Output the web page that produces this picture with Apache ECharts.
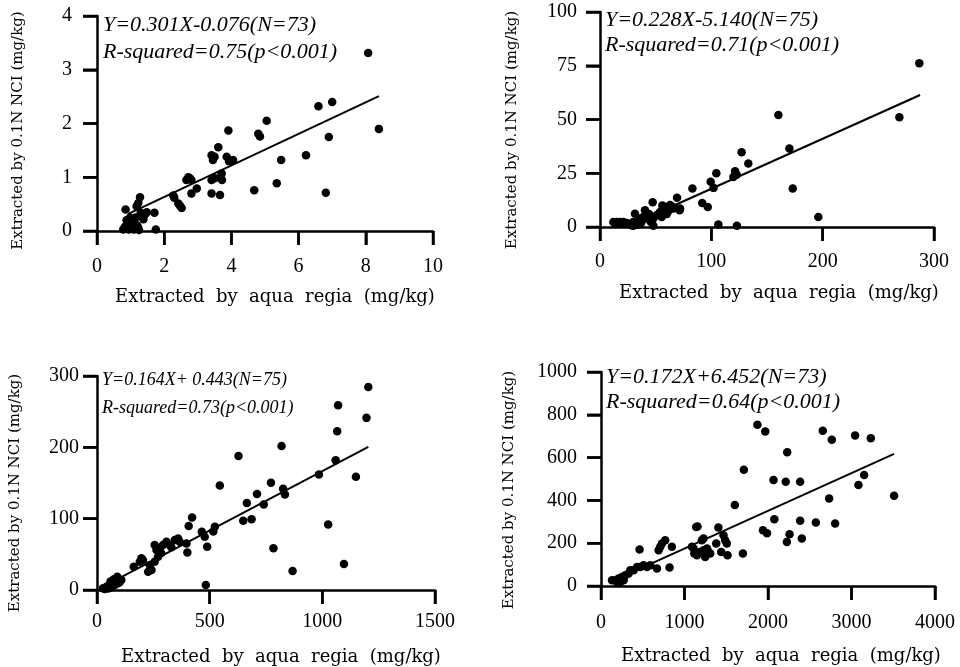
<!DOCTYPE html>
<html>
<head>
<meta charset="utf-8">
<script src="https://cdn.jsdelivr.net/npm/echarts@6/dist/echarts.min.js"></script>
<style>html,body{margin:0;padding:0;background:#fff;}#c{width:960px;height:667px;}</style>
</head>
<body>
<div id="c"></div>
<script>
// ---- Panel 1 ----
const p1x = [8.07,8.39,7.00,6.59,6.90,6.81,6.22,5.48,5.35,5.05,4.80,4.85,4.68,3.91,4.05,3.86,3.93,3.61,3.41,3.45,3.50,3.71,3.68,3.72,3.41,3.50,3.41,3.66,2.72,2.81,2.66,2.76,2.97,2.81,2.27,2.42,2.52,2.47,1.28,1.23,1.18,0.85,1.48,1.43,1.38,1.71,1.75,0.88,0.93,0.83,1.03,1.23,1.13,1.08,1.30,1.33,0.78,0.95,1.10,1.20,0.98,1.00,1.15,1.25,2.30];
const p1y = [3.31,1.90,2.40,2.32,1.75,0.71,1.41,1.32,0.89,2.05,1.81,1.76,0.76,1.87,1.32,1.38,1.30,1.56,1.41,1.32,1.38,1.07,1.00,0.95,0.95,0.98,0.70,0.67,1.00,0.95,0.95,0.98,0.79,0.70,0.66,0.51,0.43,0.47,0.63,0.52,0.46,0.40,0.35,0.31,0.22,0.34,0.03,0.20,0.14,0.08,0.05,0.05,0.14,0.20,0.34,0.28,0.03,0.03,0.03,0.10,0.25,0.12,0.25,0.02,0.62];
const p1line = [[0.93,0.32],[8.39,2.51]];
const p1xTicks = [0,2,4,6,8,10];
const p1yTicks = [0,1,2,3,4];
const p1text = ['Y=0.301X-0.076(N=73)','R-squared=0.75(p<0.001)'];

// ---- Panel 2 ----
const p2x = [286.8,268.9,160.2,170.1,173.1,196.1,133.2,127.2,121.3,122.8,119.8,104.5,99.4,102.0,91.8,96.8,83.0,69.2,71.5,47.3,106.3,123.0,31.4,40.4,47.9,29.9,62.9,59.9,56.9,53.9,50.9,47.9,55.4,65.9,71.9,44.0,38.9,35.9,41.9,29.9,12.0,15.0,18.0,21.0,24.0,13.5,19.5,28.4,58.0,61.5,64.0,67.0,52.5,45.5,37.0,26.0,33.0,17.0,56.0,60.0,43.0];
const p2y = [76.2,51.0,52.1,36.5,17.9,4.7,29.5,34.8,25.9,24.3,23.3,25.0,21.0,18.2,11.2,9.3,17.9,13.6,7.8,11.5,1.2,0.6,6.2,7.8,0.6,0.6,10.2,9.3,8.6,7.0,5.5,3.9,4.7,8.6,8.6,6.0,4.7,3.9,3.9,2.3,2.3,2.3,2.3,2.3,1.9,1.6,1.6,0.8,6.5,7.5,9.8,9.0,6.0,2.5,2.0,1.5,1.0,1.8,10.0,6.0,5.0];
const p2line = [[45,5.0],[287.5,61.4]];
const p2xTicks = [0,100,200,300];
const p2yTicks = [0,25,50,75,100];
const p2text = ['Y=0.228X-5.140(N=75)','R-squared=0.71(p<0.001)'];

// ---- Panel 3 ----
const p3x = [1204,1196,1070,1066,1059,1149,985,819,628,545,772,826,834,710,740,665,649,686,1026,783,868,1096,483,516,523,465,478,489,422,407,401,360,367,345,397,308,323,293,278,264,256,271,256,234,227,242,197,190,204,163,86,71,56,42,27,108,93,79,60,75,100,65,50,35,90,285,330];
const p3y = [284.6,241.3,259,222.6,182,158.7,161.9,202,188,146.5,150.5,142,134,134.5,120,122,97,99.2,91.9,58.4,26.6,36.4,7,82,88.6,81.7,74.6,60.6,101.5,89.8,52.6,72.3,67.7,70,65.3,67.7,63,63,58.3,56,63,46.6,39.7,35,25.6,28,44.4,39.7,42,32.6,16.3,11.6,7,4.7,2.3,14,9.3,7,12,15,11,4,2,1.5,18.7,52,60];
const p3line = [[15,2.5],[1204,200.5]];
const p3xTicks = [0,500,1000,1500];
const p3yTicks = [0,100,200,300];
const p3text = ['Y=0.164X+ 0.443(N=75)','R-squared=0.73(p<0.001)'];

// ---- Panel 4 ----
const p4x = [1873,1967,2656,2764,3043,3231,2230,1711,2066,2212,2385,3151,3083,3510,2732,1603,2076,2385,2573,2804,1940,1988,2258,2226,2405,1699,1406,1140,1156,1467,1487,1507,1380,1440,1515,1208,1228,1089,1117,1149,1228,1288,1248,1308,1188,730,710,769,690,849,821,462,670,590,550,510,471,431,391,351,331,291,251,211,171,132,271,231,191,1270,1109];
const p4y = [753,722,725,683,703,691,625,543,495,487,487,519,472,422,409,378,312,305,297,292,260,247,242,206,222,152,273,276,278,237,214,199,199,159,144,214,222,183,152,144,167,159,136,152,159,199,183,214,167,183,86,171,82,97,89,97,89,89,74,74,58,50,42,35,27,27,27,19,19,175,175];
const p4line = [[150,25],[3510,617]];
const p4xTicks = [0,1000,2000,3000,4000];
const p4yTicks = [0,200,400,600,800,1000];
const p4text = ['Y=0.172X+6.452(N=73)','R-squared=0.64(p<0.001)'];

const xName = 'Extracted  by  aqua  regia  (mg/kg)';
const yName = 'Extracted by 0.1N NCI (mg/kg)';

const panels = [
  {x:p1x,y:p1y,line:p1line,xt:p1xTicks,yt:p1yTicks,text:p1text,
   grid:{left:97,top:16,width:336,height:215}, xGap:57, xPad:20, yGap:71, yPad:14, xLM:26, yLM:25,
   tx:103, ty:[25,52], tf:22},
  {x:p2x,y:p2y,line:p2line,xt:p2xTicks,yt:p2yTicks,text:p2text,
   grid:{left:600,top:12,width:334,height:215}, xGap:57, xPad:24, yGap:80, yPad:21, xLM:25, yLM:23,
   tx:605, ty:[20,45], tf:22},
  {x:p3x,y:p3y,line:p3line,xt:p3xTicks,yt:p3yTicks,text:p3text,
   grid:{left:97,top:376,width:338,height:214}, xGap:58, xPad:30, yGap:74, yPad:20, xLM:22, yLM:18,
   tx:102, ty:[380,408], tf:18},
  {x:p4x,y:p4y,line:p4line,xt:p4xTicks,yt:p4yTicks,text:p4text,
   grid:{left:601,top:372,width:334,height:214}, xGap:61, xPad:26, yGap:84, yPad:22, xLM:27, yLM:24,
   tx:606, ty:[377,402], tf:22}
];

const TICK_LEN = 14, TICK_W = 2.5;
const plain = v => String(v);
const grids=[], xAxes=[], yAxes=[], series=[], graphics=[];
panels.forEach((p,i)=>{
  grids.push(Object.assign({}, p.grid));
  const mk = (ticks, lm, gap, nameStyle, nm) => ({
    type:'value', gridIndex:i, min:ticks[0], max:ticks[ticks.length-1], interval:ticks[1]-ticks[0],
    splitLine:{show:false},
    axisLine:{show:true, lineStyle:{color:'#000', width:2.5}},
    axisTick:{show:true, length:TICK_LEN, lineStyle:{color:'#000', width:TICK_W}},
    axisLabel:{color:'#000', fontFamily:'Liberation Serif', fontSize:20, margin:lm, formatter:plain},
    name:nm, nameLocation:'middle', nameGap:gap, nameTextStyle:nameStyle
  });
  xAxes.push(mk(p.xt, p.xLM, p.xGap,
    {color:'#000', fontFamily:'DejaVu Serif', fontSize:18, padding:[0,0,0,p.xPad]}, xName));
  yAxes.push(mk(p.yt, p.yLM, p.yGap,
    {color:'#000', fontFamily:'DejaVu Serif', fontSize:15, padding:[0,p.yPad,0,0]}, yName));
  series.push({
    type:'scatter', xAxisIndex:i, yAxisIndex:i, symbol:'circle', symbolSize:8.5,
    itemStyle:{color:'#000', opacity:1}, data:p.x.map((v,k)=>[v,p.y[k]]), z:3
  });
  series.push({
    type:'line', xAxisIndex:i, yAxisIndex:i, symbol:'none', lineStyle:{color:'#000', width:2},
    data:p.line, z:2
  });
  // outward tick marks placed through the axis scales, from the tick arrays
  series.push({
    type:'scatter', xAxisIndex:i, yAxisIndex:i, symbol:'rect', clip:false, silent:true,
    symbolSize:[TICK_W, TICK_LEN], symbolOffset:[0, TICK_LEN/2],
    itemStyle:{color:'#000', opacity:1}, z:4,
    data:p.xt.map(v=>[v, p.yt[0]])
  });
  series.push({
    type:'scatter', xAxisIndex:i, yAxisIndex:i, symbol:'rect', clip:false, silent:true,
    symbolSize:[TICK_LEN, TICK_W], symbolOffset:[-TICK_LEN/2, 0],
    itemStyle:{color:'#000', opacity:1}, z:4,
    data:p.yt.map(v=>[p.xt[0], v])
  });
  p.text.forEach((t,k)=>{
    graphics.push({type:'text', x:p.tx, y:p.ty[k], style:{text:t, fill:'#000',
      font:'italic '+p.tf+'px "Liberation Serif"', verticalAlign:'middle'}});
  });
});

const chart = echarts.init(document.getElementById('c'));
chart.setOption({
  animation:false,
  grid:grids, xAxis:xAxes, yAxis:yAxes, series:series, graphic:graphics
});
</script>
</body>
</html>
